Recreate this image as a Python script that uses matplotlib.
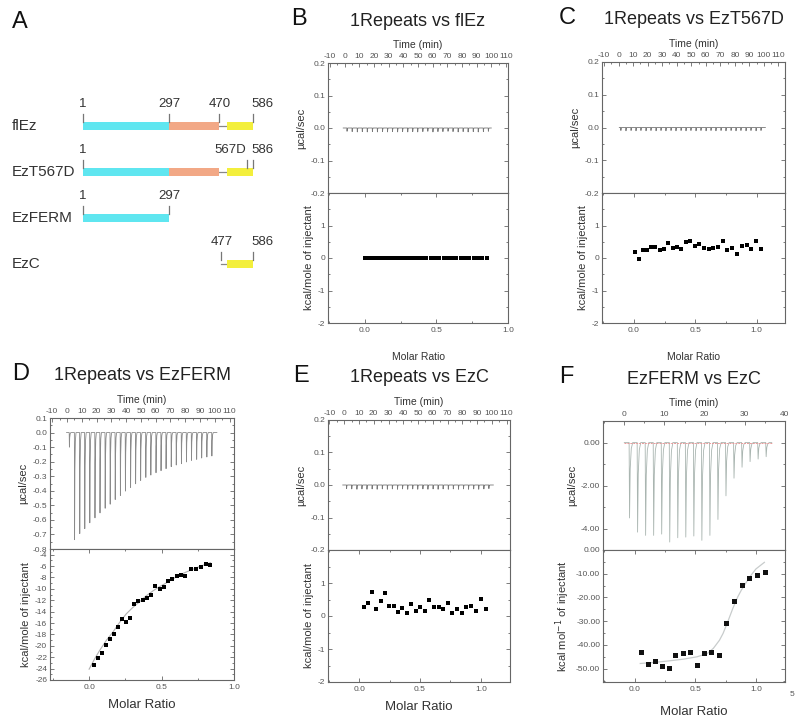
import matplotlib
matplotlib.use('Agg')
import matplotlib.pyplot as plt
from matplotlib.ticker import MultipleLocator, FormatStrFormatter, FixedLocator

plt.rcParams['font.family'] = ['Liberation Sans', 'DejaVu Sans']
plt.rcParams['axes.unicode_minus'] = False

# ---------------- panel A: domain maps ----------------
constructs = ['flEz', 'EzT567D', 'EzFERM', 'EzC']
# (start, end, kind) per construct
segments = [
    [(1, 297, 'ferm'), (297, 470, 'helix'), (470, 497, 'linker'), (497, 586, 'cterm')],
    [(1, 297, 'ferm'), (297, 470, 'helix'), (470, 497, 'linker'), (497, 586, 'cterm')],
    [(1, 297, 'ferm')],
    [(477, 497, 'linker'), (497, 586, 'cterm')],
]
marks = [
    [(1, '1'), (297, '297'), (470, '470'), (586, '586')],
    [(1, '1'), (567, '567D'), (586, '586')],
    [(1, '1'), (297, '297')],
    [(477, '477'), (586, '586')],
]

# ---------------- ITC data ----------------
inj_time = [1.5, 5.0, 8.5, 11.9, 15.3, 18.8, 22.2, 25.7, 29.1, 32.5, 36.0, 39.4, 42.9, 46.3, 49.7,
            53.2, 56.6, 60.1, 63.5, 66.9, 70.4, 73.8, 77.3, 80.7, 84.1, 87.6, 91.0, 94.5, 97.9]

# B: 1Repeats vs flEz
b_peaks = [-0.010, -0.011, -0.012, -0.011, -0.012, -0.011, -0.012, -0.011, -0.012, -0.011,
           -0.012, -0.011, -0.012, -0.011, -0.012, -0.011, -0.010, -0.012, -0.011, -0.011,
           -0.010, -0.011, -0.012, -0.011, -0.012, -0.011, -0.012, -0.011, -0.010]
b_ratio = [0.000, 0.012, 0.024, 0.036, 0.048, 0.060, 0.072, 0.084, 0.096, 0.108, 0.120, 0.132,
           0.144, 0.156, 0.168, 0.180, 0.192, 0.204, 0.216, 0.228, 0.240, 0.252, 0.264, 0.276,
           0.288, 0.300, 0.312, 0.324, 0.336, 0.348, 0.370, 0.400, 0.430, 0.460, 0.490, 0.520,
           0.550, 0.580, 0.610, 0.640, 0.670, 0.700, 0.730, 0.760, 0.790, 0.820, 0.850]
b_heat = [0.0] * 47

# C: 1Repeats vs EzT567D
c_peaks = [-0.009, -0.010, -0.009, -0.010, -0.009, -0.010, -0.009, -0.010, -0.009, -0.010,
           -0.009, -0.010, -0.009, -0.010, -0.009, -0.010, -0.009, -0.010, -0.009, -0.010,
           -0.009, -0.010, -0.009, -0.010, -0.009, -0.010, -0.009, -0.010, -0.009]
c_ratio = [0.008, 0.040, 0.073, 0.106, 0.139, 0.174, 0.209, 0.245, 0.280, 0.315, 0.351, 0.386,
           0.421, 0.459, 0.495, 0.533, 0.571, 0.609, 0.647, 0.685, 0.723, 0.761, 0.799, 0.840,
           0.878, 0.918, 0.957, 0.997, 1.035]
c_heat = [0.20, -0.03, 0.25, 0.25, 0.35, 0.33, 0.25, 0.27, 0.47, 0.30, 0.34, 0.29, 0.49, 0.52,
          0.37, 0.44, 0.32, 0.28, 0.30, 0.35, 0.52, 0.26, 0.32, 0.12, 0.38, 0.41, 0.28, 0.53, 0.29]

# D: 1Repeats vs EzFERM
d_peaks = [-0.100, -0.736, -0.694, -0.660, -0.620, -0.586, -0.552, -0.520, -0.492, -0.460,
           -0.432, -0.402, -0.377, -0.352, -0.329, -0.308, -0.292, -0.276, -0.262, -0.248,
           -0.234, -0.223, -0.214, -0.202, -0.191, -0.184, -0.175, -0.168, -0.161]
d_ratio = [0.032, 0.059, 0.087, 0.114, 0.144, 0.171, 0.199, 0.226, 0.256, 0.283, 0.313, 0.340,
           0.370, 0.397, 0.429, 0.457, 0.486, 0.516, 0.546, 0.575, 0.605, 0.635, 0.664, 0.701,
           0.735, 0.769, 0.804, 0.836]
d_heat = [-23.4, -22.1, -21.2, -19.8, -18.8, -18.0, -16.7, -15.3, -15.8, -15.1, -12.6, -12.2,
          -12.0, -11.6, -11.0, -9.5, -10.0, -9.6, -8.6, -8.2, -7.7, -7.6, -7.7, -6.5, -6.5,
          -6.1, -5.6, -5.8]
d_fit_ratio = [0.0, 0.04, 0.073, 0.12, 0.164, 0.21, 0.256, 0.30, 0.347, 0.39, 0.438, 0.48, 0.53,
               0.575, 0.621, 0.665, 0.712, 0.77, 0.838]
d_fit_heat = [-24.1, -22.2, -20.8, -19.0, -17.6, -15.9, -14.4, -13.3, -12.3, -11.3, -10.4,
              -9.7, -9.0, -8.3, -7.6, -7.1, -6.6, -6.0, -5.4]

# E: 1Repeats vs EzC
e_peaks = [-0.011, -0.012, -0.013, -0.012, -0.013, -0.012, -0.013, -0.012, -0.013, -0.012,
           -0.013, -0.012, -0.013, -0.012, -0.013, -0.012, -0.013, -0.012, -0.013, -0.012,
           -0.013, -0.012, -0.013, -0.012, -0.013, -0.012, -0.013, -0.012, -0.011]
e_ratio = [0.038, 0.071, 0.107, 0.140, 0.175, 0.211, 0.247, 0.282, 0.318, 0.353, 0.389, 0.427,
           0.463, 0.499, 0.537, 0.575, 0.614, 0.652, 0.690, 0.729, 0.767, 0.805, 0.844, 0.882,
           0.923, 0.962, 1.003, 1.044]
e_heat = [0.28, 0.39, 0.74, 0.21, 0.44, 0.69, 0.31, 0.29, 0.11, 0.23, 0.08, 0.35, 0.15, 0.26,
          0.16, 0.49, 0.28, 0.28, 0.20, 0.39, 0.10, 0.20, 0.10, 0.28, 0.29, 0.15, 0.52, 0.22]

# F: EzFERM vs EzC
f_time = [1.2, 3.2, 5.2, 7.2, 9.2, 11.2, 13.2, 15.2, 17.2, 19.2, 21.2, 23.2, 25.2, 27.2, 29.2,
          31.2, 33.2, 35.2]
f_peaks = [-3.51, -4.17, -4.32, -4.32, -4.26, -4.63, -4.43, -4.40, -4.35, -4.55, -4.32, -3.58,
           -2.48, -1.66, -1.15, -0.89, -0.77, -0.66]
f_ratio = [0.050, 0.107, 0.165, 0.223, 0.280, 0.335, 0.396, 0.453, 0.511, 0.571, 0.632, 0.695,
           0.755, 0.819, 0.882, 0.945, 1.011, 1.077]
f_heat = [-43.1, -48.2, -46.9, -48.7, -49.7, -44.2, -43.3, -42.8, -48.5, -43.5, -42.8, -44.4,
          -30.6, -21.4, -14.8, -12.0, -10.4, -9.3]
f_fit_ratio = [0.047, 0.15, 0.267, 0.40, 0.514, 0.60, 0.65, 0.70, 0.73, 0.77, 0.81, 0.85, 0.88,
               0.95, 1.0, 1.07]
f_fit_heat = [-47.8, -47.4, -46.8, -46.0, -45.0, -43.6, -41.4, -38.0, -35.1, -30.0, -24.6,
              -19.8, -16.9, -11.3, -8.0, -5.2]

W, H = 800, 725
fig = plt.figure(figsize=(W / 100, H / 100), dpi=100)
fig.patch.set_facecolor('white')

TXT = '#333333'
GREY = '#555555'


def px_axes(l, t, r, b):
    return fig.add_axes([l / W, 1 - b / H, (r - l) / W, (b - t) / H])


def style(ax):
    for s in ax.spines.values():
        s.set_color('#666666')
        s.set_linewidth(0.8)
    ax.tick_params(which='both', labelsize=6, colors='#666666', labelcolor=GREY,
                   direction='in', width=0.6)
    ax.tick_params(which='major', length=3)
    ax.tick_params(which='minor', length=1.6)


def spike_trace(times, peaks, t0, t1, w):
    t, y = [t0], [0.0]
    for ti, p in zip(times, peaks):
        t += [ti, ti + 0.12 * w, ti + 0.3 * w, ti + 0.6 * w, ti + w]
        y += [0.0, p, 0.35 * p, 0.08 * p, 0.0]
    t.append(t1)
    y.append(0.0)
    return t, y


def itc_panel(box, title, letter, letter_x, tlim, tmaj, tmin, ylim_top, ymaj_top, ymin_top,
              top_fmt, ylim_bot, ybot_ticks, ymin_bot, bot_fmt, rlim, ylab_bot, mr_size, mr_pad):
    l, t, r, m, b = box
    ax1 = px_axes(l, t, r, m)
    ax2 = px_axes(l, m, r, b)
    for ax in (ax1, ax2):
        style(ax)
    # top: raw heat
    ax1.set_xlim(*tlim)
    ax1.set_ylim(*ylim_top)
    ax1.xaxis.tick_top()
    ax1.xaxis.set_label_position('top')
    ax1.xaxis.set_major_locator(MultipleLocator(tmaj))
    ax1.xaxis.set_minor_locator(MultipleLocator(tmin))
    ax1.yaxis.set_major_locator(MultipleLocator(ymaj_top))
    ax1.yaxis.set_minor_locator(MultipleLocator(ymin_top))
    ax1.yaxis.set_major_formatter(FormatStrFormatter(top_fmt))
    ax1.tick_params(axis='x', which='both', top=True, bottom=False, labeltop=True,
                    labelbottom=False, pad=2)
    ax1.tick_params(axis='y', which='both', left=True, right=True, pad=2)
    ax1.set_xlabel('Time (min)', fontsize=7.5, color=TXT, labelpad=4)
    ax1.set_ylabel('\u00b5cal/sec', fontsize=8, color=TXT, labelpad=3)
    # bottom: integrated heats
    ax2.set_xlim(*rlim)
    ax2.set_ylim(*ylim_bot)
    ax2.xaxis.set_major_locator(FixedLocator([0.0, 0.5, 1.0]))
    ax2.xaxis.set_minor_locator(MultipleLocator(0.25))
    ax2.yaxis.set_major_locator(FixedLocator(ybot_ticks))
    ax2.yaxis.set_minor_locator(MultipleLocator(ymin_bot))
    ax2.xaxis.set_major_formatter(FormatStrFormatter('%.1f'))
    ax2.yaxis.set_major_formatter(FormatStrFormatter(bot_fmt))
    ax2.tick_params(axis='x', which='both', top=True, bottom=True, pad=3)
    ax2.tick_params(axis='y', which='both', left=True, right=True, pad=2)
    ax2.set_xlabel('Molar Ratio', fontsize=mr_size, color=TXT, labelpad=mr_pad)
    ax2.set_ylabel(ylab_bot, fontsize=8, color=TXT, labelpad=3)
    # title and letter
    cx = (l + r) / 2 / W
    fig.text(cx, 1 - (t - 42) / H, title, fontsize=13, color='#222222', ha='center', va='center')
    fig.text(letter_x / W, 1 - (t - 44) / H, letter, fontsize=17, color='#111111',
             ha='left', va='center')
    return ax1, ax2


# ---------------- panel A ----------------
axA = px_axes(0, 80, 270, 300)
axA.set_axis_off()
# residue 1 -> x px 83, residue 586 -> x px 253
scale = (253 - 83) / 585.0
axA.set_xlim(1 - 83 / scale, 1 + (270 - 83) / scale)
axA.set_ylim(3.78, -1.0)
colors = {'ferm': '#5fe6f0', 'helix': '#f2a886', 'cterm': '#f3ef3c'}
bar_h = 0.17
for i, name in enumerate(constructs):
    axA.text(0.045, i, name, transform=axA.get_yaxis_transform(), fontsize=11, color=TXT,
             ha='left', va='center')
    for s, e, kind in segments[i]:
        if kind == 'linker':
            axA.plot([s, e], [i, i], color='#888888', lw=0.9, zorder=1)
        else:
            axA.add_patch(plt.Rectangle((s, i - bar_h / 2), e - s, bar_h, facecolor=colors[kind],
                                        edgecolor='none', zorder=2))
    for pos, lab in marks[i]:
        axA.plot([pos, pos], [i - bar_h / 2, i - 0.27], color='#777777', lw=0.9, zorder=3)
        ha = 'center'
        dx = 0
        if lab == '567D':
            ha, dx = 'right', -1
        elif lab == '586':
            ha, dx = 'left', -1
        axA.annotate(lab, (pos, i - 0.47), xytext=(dx, 0), textcoords='offset points',
                     fontsize=9.5, color=TXT, ha=ha, va='center')
fig.text(12 / W, 1 - 22 / H, 'A', fontsize=17, color='#111111', ha='left', va='center')

# ---------------- panel B ----------------
axB1, axB2 = itc_panel((328, 63, 508, 193, 323), '1Repeats vs flEz', 'B', 291,
                       (-11.4, 111.4), 10, 5, (-0.2, 0.2), 0.1, 0.05, '%.1f',
                       (-2, 2), [-2, -1, 0, 1], 0.5, '%d', (-0.256, 1.0),
                       'kcal/mole of injectant', 7.5, 13)
t, y = spike_trace(inj_time, b_peaks, -1.0, 100.0, 0.8)
axB1.plot(t, y, color='#777777', lw=0.6)
axB2.plot(b_ratio, b_heat, 's', color='black', ms=3, mew=0)

# ---------------- panel C ----------------
axC1, axC2 = itc_panel((602, 62, 785, 193, 323), '1Repeats vs EzT567D', 'C', 559,
                       (-11.4, 114.5), 10, 5, (-0.2, 0.2), 0.1, 0.05, '%.1f',
                       (-2, 2), [-2, -1, 0, 1], 0.5, '%d', (-0.26, 1.23),
                       'kcal/mole of injectant', 7.5, 13)
t, y = spike_trace(inj_time, c_peaks, 0.5, 101.0, 0.8)
axC1.plot(t, y, color='#777777', lw=0.6)
axC2.plot(c_ratio, c_heat, 's', color='black', ms=3.2, mew=0)

# ---------------- panel D ----------------
axD1, axD2 = itc_panel((50, 418, 234, 549, 680), '1Repeats vs EzFERM', 'D', 12,
                       (-11.5, 113.0), 10, 5, (-0.8, 0.1), 0.1, 0.05, '%.1f',
                       (-26, -3), list(range(-26, -3, 2)), 1, '%d', (-0.27, 1.0),
                       'kcal/mole of injectant', 9.5, 6)
t, y = spike_trace(inj_time, d_peaks, -0.3, 101.4, 1.1)
axD1.plot(t, y, color='#8a8a8a', lw=0.6)
axD2.plot(d_fit_ratio, d_fit_heat, color='#b0b0b0', lw=0.8)
axD2.plot(d_ratio, d_heat, 's', color='black', ms=3.2, mew=0)

# ---------------- panel E ----------------
axE1, axE2 = itc_panel((328, 420, 510, 550, 682), '1Repeats vs EzC', 'E', 293,
                       (-11.0, 112.3), 10, 5, (-0.2, 0.2), 0.1, 0.05, '%.1f',
                       (-2, 2), [-2, -1, 0, 1], 0.5, '%d', (-0.257, 1.24),
                       'kcal/mole of injectant', 9.5, 6)
t, y = spike_trace(inj_time, e_peaks, -1.0, 101.0, 0.8)
axE1.plot(t, y, color='#777777', lw=0.6)
axE2.plot(e_ratio, e_heat, 's', color='black', ms=3.2, mew=0)

# ---------------- panel F ----------------
axF1, axF2 = itc_panel((603, 421, 785, 550, 682), 'EzFERM vs EzC', 'F', 559,
                       (-5.3, 40), 10, 5, (-5.0, 1.0), 2, 1, '%.2f',
                       (-55.6, 0), [-50, -40, -30, -20, -10, 0], 5, '%.2f', (-0.26, 1.24),
                       'kcal mol$^{-1}$ of injectant', 9.5, 9)
axF1.yaxis.set_major_locator(FixedLocator([-4, -2, 0]))
t, y = spike_trace(f_time, f_peaks, 0.0, 36.7, 0.9)
axF1.plot(t, y, color='#a9b5b0', lw=0.6)
axF1.plot([0.0, 36.7], [0, 0], color='#e79a9a', lw=0.7, ls=(0, (2, 1)))
axF2.plot(f_fit_ratio, f_fit_heat, color='#c8cccc', lw=0.9)
axF2.plot(f_ratio, f_heat, 's', color='#111111', ms=3.6, mew=0)

fig.text(792 / W, 1 - 695 / H, '5', fontsize=6, color=GREY, ha='center', va='center')

fig.savefig('out.png', dpi=100, facecolor='white')
